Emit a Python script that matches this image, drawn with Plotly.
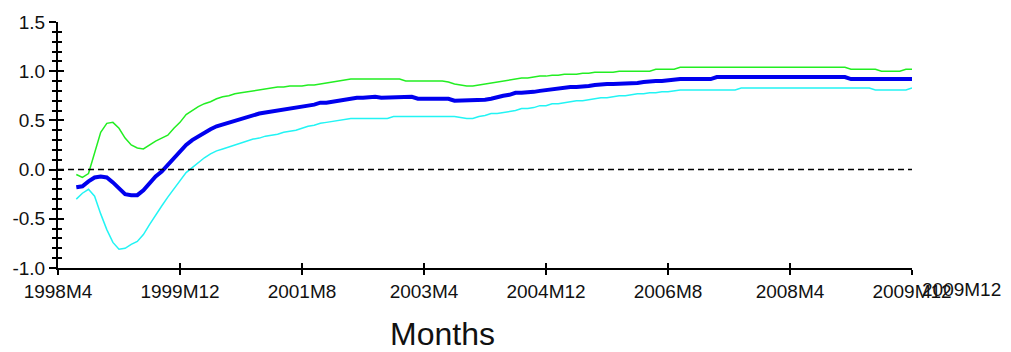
import plotly.graph_objects as go

# Monthly sample: 1998M7 .. 2009M12
START_YEAR, START_MONTH = 1998, 7
N_MONTHS = 138

# Estimate and +/- bands
estimate = [
    -0.18, -0.17, -0.12, -0.08, -0.07, -0.08, -0.13, -0.19, -0.25, -0.26,
    -0.26, -0.21, -0.14, -0.07, -0.02, 0.05, 0.12, 0.18, 0.25, 0.30,
    0.34, 0.37, 0.41, 0.44, 0.46, 0.48, 0.50, 0.52, 0.54, 0.55,
    0.57, 0.58, 0.59, 0.61, 0.62, 0.63, 0.64, 0.64, 0.65, 0.66,
    0.68, 0.68, 0.69, 0.71, 0.72, 0.73, 0.73, 0.73, 0.74, 0.74,
    0.73, 0.73, 0.73, 0.73, 0.73, 0.74, 0.72, 0.72, 0.72, 0.72,
    0.72, 0.72, 0.70, 0.70, 0.70, 0.70, 0.70, 0.71, 0.72, 0.74,
    0.75, 0.76, 0.78, 0.78, 0.78, 0.79, 0.80, 0.81, 0.82, 0.82,
    0.84, 0.84, 0.84, 0.84, 0.85, 0.86, 0.87, 0.87, 0.87, 0.87,
    0.88, 0.88, 0.88, 0.89, 0.90, 0.90, 0.90, 0.91, 0.92, 0.92,
    0.92, 0.92, 0.92, 0.92, 0.92, 0.94, 0.94, 0.94, 0.94, 0.94,
    0.94, 0.94, 0.94, 0.94, 0.94, 0.94, 0.94, 0.94, 0.94, 0.94,
    0.94, 0.94, 0.94, 0.94, 0.94, 0.94, 0.94, 0.92, 0.92, 0.92,
    0.92, 0.92, 0.92, 0.92, 0.92, 0.92, 0.92, 0.92,
]

upper_band = [
    -0.05, -0.08, -0.04, 0.17, 0.38, 0.47, 0.48, 0.42, 0.32, 0.25,
    0.22, 0.21, 0.25, 0.29, 0.32, 0.35, 0.42, 0.48, 0.56, 0.60,
    0.64, 0.67, 0.69, 0.72, 0.74, 0.75, 0.77, 0.78, 0.79, 0.80,
    0.81, 0.82, 0.83, 0.84, 0.84, 0.85, 0.85, 0.85, 0.86, 0.86,
    0.87, 0.88, 0.89, 0.90, 0.91, 0.92, 0.92, 0.92, 0.92, 0.92,
    0.92, 0.92, 0.92, 0.92, 0.90, 0.90, 0.90, 0.90, 0.90, 0.90,
    0.90, 0.89, 0.87, 0.86, 0.85, 0.85, 0.86, 0.87, 0.88, 0.89,
    0.90, 0.91, 0.92, 0.93, 0.93, 0.94, 0.95, 0.95, 0.96, 0.96,
    0.97, 0.97, 0.97, 0.98, 0.98, 0.99, 0.99, 0.99, 0.99, 1.00,
    1.00, 1.00, 1.00, 1.00, 1.00, 1.02, 1.02, 1.02, 1.02, 1.04,
    1.04, 1.04, 1.04, 1.04, 1.04, 1.04, 1.04, 1.04, 1.04, 1.04,
    1.04, 1.04, 1.04, 1.04, 1.04, 1.04, 1.04, 1.04, 1.04, 1.04,
    1.04, 1.04, 1.04, 1.04, 1.04, 1.04, 1.04, 1.02, 1.02, 1.02,
    1.02, 1.02, 1.00, 1.00, 1.00, 1.00, 1.02, 1.02,
]

lower_band = [
    -0.30, -0.24, -0.20, -0.27, -0.45, -0.61, -0.74, -0.81, -0.80, -0.76,
    -0.73, -0.66, -0.56, -0.46, -0.37, -0.28, -0.20, -0.11, -0.03, 0.02,
    0.07, 0.12, 0.16, 0.19, 0.21, 0.23, 0.25, 0.27, 0.29, 0.31,
    0.32, 0.34, 0.35, 0.36, 0.38, 0.39, 0.40, 0.42, 0.44, 0.45,
    0.47, 0.48, 0.49, 0.50, 0.51, 0.52, 0.52, 0.52, 0.52, 0.52,
    0.52, 0.52, 0.54, 0.54, 0.54, 0.54, 0.54, 0.54, 0.54, 0.54,
    0.54, 0.54, 0.54, 0.53, 0.52, 0.52, 0.54, 0.55, 0.57, 0.57,
    0.58, 0.59, 0.60, 0.62, 0.62, 0.63, 0.65, 0.65, 0.67, 0.67,
    0.68, 0.69, 0.70, 0.70, 0.71, 0.72, 0.73, 0.73, 0.74, 0.75,
    0.75, 0.76, 0.77, 0.77, 0.78, 0.78, 0.79, 0.79, 0.80, 0.81,
    0.81, 0.81, 0.81, 0.81, 0.81, 0.81, 0.81, 0.81, 0.81, 0.83,
    0.83, 0.83, 0.83, 0.83, 0.83, 0.83, 0.83, 0.83, 0.83, 0.83,
    0.83, 0.83, 0.83, 0.83, 0.83, 0.83, 0.83, 0.83, 0.83, 0.83,
    0.83, 0.81, 0.81, 0.81, 0.81, 0.81, 0.81, 0.83,
]

# Axis ticks
x_tick_labels = ["1998M4", "1999M12", "2001M8", "2003M4",
                 "2004M12", "2006M8", "2008M4", "2009M12"]
y_tick_vals = [-1.0, -0.5, 0.0, 0.5, 1.0, 1.5]
y_tick_labels = ["-1.0", "-0.5", "0.0", "0.5", "1.0", "1.5"]

# Period labels of the sample
periods = []
yy, mm = START_YEAR, START_MONTH
for _ in range(N_MONTHS):
    periods.append(f"{yy}M{mm}")
    mm += 1
    if mm > 12:
        yy, mm = yy + 1, 1


def month_index(label, origin="1998M4"):
    y0, m0 = map(int, origin.split("M"))
    y1, m1 = map(int, label.split("M"))
    return (y1 - y0) * 12 + (m1 - m0)


x = [month_index(p) for p in periods]
x_tick_vals = [month_index(t) for t in x_tick_labels]
x_range = [x_tick_vals[0], x_tick_vals[-1]]

FONT = "Liberation Sans, Arial, sans-serif"

fig = go.Figure()
fig.add_trace(go.Scatter(x=x, y=upper_band, mode="lines",
                         line=dict(color="#22ee22", width=1.5), hoverinfo="skip"))
fig.add_trace(go.Scatter(x=x, y=lower_band, mode="lines",
                         line=dict(color="#22f4f4", width=1.5), hoverinfo="skip"))
fig.add_trace(go.Scatter(x=x, y=estimate, mode="lines",
                         line=dict(color="#0000ee", width=4), hoverinfo="skip"))

fig.add_hline(y=0, line=dict(color="black", width=1.5, dash="6px,4px"))

axis_font = dict(family=FONT, size=19, color="#111111")

fig.update_layout(
    width=1011, height=352,
    margin=dict(l=56, r=99, t=17, b=84),
    paper_bgcolor="white", plot_bgcolor="white",
    showlegend=False,
    font=axis_font,
    xaxis=dict(
        range=x_range, tickvals=x_tick_vals, ticktext=x_tick_labels,
        ticks="outside", ticklen=5, tickwidth=1.5, tickcolor="black",
        showline=True, linecolor="black", linewidth=2,
        showgrid=False, zeroline=False, tickfont=axis_font,
    ),
    xaxis2=dict(
        overlaying="x", anchor="y", side="bottom",
        range=x_range, tickvals=x_tick_vals, showticklabels=False,
        ticks="inside", ticklen=5, tickwidth=1.5, tickcolor="black",
        showline=False, showgrid=False, zeroline=False,
    ),
    yaxis=dict(
        range=[-1.0, 1.5], tickvals=y_tick_vals, ticktext=y_tick_labels,
        ticks="outside", ticklen=7, tickwidth=1.5, tickcolor="black",
        minor=dict(dtick=0.1, ticks="outside", ticklen=4, tickwidth=1.5,
                   tickcolor="black", showgrid=False),
        showline=True, linecolor="black", linewidth=2,
        showgrid=False, zeroline=False, tickfont=axis_font,
    ),
    yaxis2=dict(
        overlaying="y", anchor="x", side="left",
        range=[-1.0, 1.5], tickvals=y_tick_vals, showticklabels=False,
        ticks="inside", ticklen=6, tickwidth=1.5, tickcolor="black",
        minor=dict(dtick=0.1, ticks="inside", ticklen=4, tickwidth=1.5,
                   tickcolor="black", showgrid=False),
        showline=False, showgrid=False, zeroline=False,
    ),
)

# Invisible carrier so the overlay axes are rendered
fig.add_trace(go.Scatter(x=[x_range[0]], y=[0], xaxis="x2", yaxis="y2",
                         mode="markers", marker=dict(opacity=0), hoverinfo="skip"))

# Repeated end label beside the last tick
fig.add_annotation(text=x_tick_labels[-1], xref="x", x=x_tick_vals[-1], xshift=49,
                   yref="paper", y=-0.088, yanchor="middle", showarrow=False,
                   font=axis_font)

# Axis caption
fig.add_annotation(text="Months", xref="paper", x=0.4498, yref="paper", y=-0.27,
                   xanchor="center", yanchor="middle", showarrow=False,
                   font=dict(family=FONT, size=32, color="#111111"))

fig.write_html("out.html")
